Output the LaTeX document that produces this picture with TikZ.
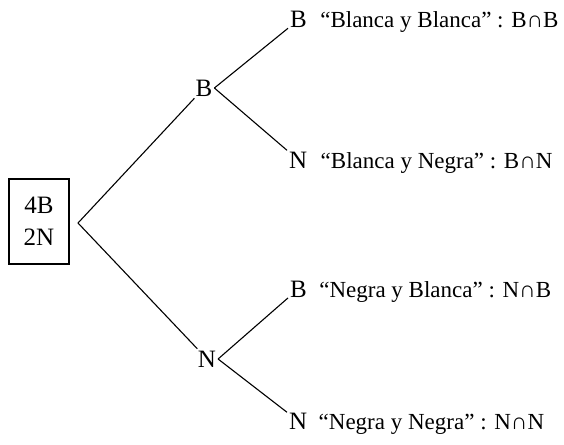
\documentclass[tikz,border=0pt]{standalone}
\usepackage{fontspec}
\setmainfont{Liberation Serif}
\usetikzlibrary{positioning}

\begin{document}
\begin{tikzpicture}[x=1pt,y=-1pt,line width=1.1pt,
    branch/.style={inner sep=1.5pt,font=\fontsize{25}{28}\selectfont},
    leaf/.style={branch,anchor=base west},
    outcome/.style={inner sep=0pt,font=\fontsize{23}{26}\selectfont}]
 \useasboundingbox (0,0) rectangle (564,444);

 % the urn and the point where the tree splits
 \node[draw,minimum width=60pt,minimum height=85pt,align=center,
       font=\fontsize{25}{32}\selectfont] (urn) at (39,221.5) {4B\\2N};
 \coordinate (fork) at (78,223);

 % first draw
 \node[branch] (b1) at (204,88)  {B};
 \node[branch] (n1) at (207,359) {N};

 % second draw
 \node[leaf] (bb) at (288,28)  {B};
 \node[leaf] (bn) at (287,168) {N};
 \node[leaf] (nb) at (288,297) {B};
 \node[leaf] (nn) at (287,429) {N};

 \node[outcome,base right=11pt of bb] (tbb) {“Blanca y Blanca” : B∩B};
 \node[outcome,base right=11pt of bn] (tbn) {“Blanca y Negra” : B∩N};
 \node[outcome,base right=10pt of nb] (tnb) {“Negra y Blanca” : N∩B};
 \node[outcome,base right=9pt of nn]  (tnn) {“Negra y Negra” : N∩N};

 \draw (fork) -- (b1);
 \draw (fork) -- (n1);
 \draw (b1.east) -- (bb);
 \draw (b1.east) -- (bn);
 \draw (n1.east) -- (nb);
 \draw (n1.east) -- (nn);

\end{tikzpicture}
\end{document}
